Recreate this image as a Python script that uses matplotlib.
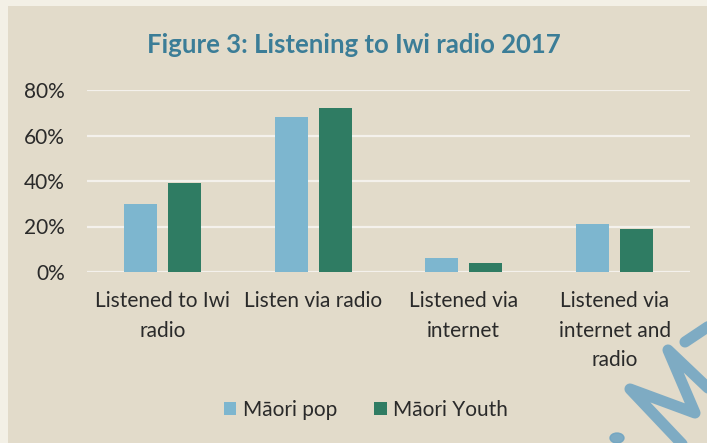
import matplotlib
matplotlib.use("Agg")
import matplotlib.pyplot as plt
import numpy as np
from matplotlib.patches import Rectangle, Ellipse
from matplotlib.lines import Line2D

categories = ["Listened to Iwi\nradio", "Listen via radio", "Listened via\ninternet", "Listened via\ninternet and\nradio"]
maori_pop = [30, 68, 6, 21]
maori_youth = [39, 72, 4, 19]
series_names = ["Māori pop", "Māori Youth"]
yticks = [0, 20, 40, 60, 80]
title = "Figure 3: Listening to Iwi radio 2017"

BG = "#e2dbca"
POP = "#7db6cf"
YOUTH = "#2f7c63"
TXT = "#2a2a2a"
plt.rcParams['font.family'] = ['Lato', 'DejaVu Sans']

W, H = 707, 443
fig = plt.figure(figsize=(W / 100, H / 100), dpi=100)
fig.patch.set_facecolor("#f3f0e6")
fig.patches.append(Rectangle((8 / W, 0), 1, 1 - 6 / H, transform=fig.transFigure,
                             facecolor=BG, edgecolor="none", zorder=-10))

ax = fig.add_axes([87 / W, 1 - 272 / H, (690 - 87) / W, (272 - 90) / H])
ax.set_facecolor("none")
x = np.arange(len(categories))
w = 0.22
off = 0.146
ax.bar(x - off, maori_pop, w, color=POP, label=series_names[0], zorder=3)
ax.bar(x + off, maori_youth, w, color=YOUTH, label=series_names[1], zorder=3)

ax.set_xlim(-0.5, len(categories) - 0.5)
ax.set_ylim(0, 80)
ax.set_yticks(yticks)
ax.set_yticklabels([f"{v}%" for v in yticks], fontsize=15, color=TXT)
ax.set_xticks(x)
ax.set_xticklabels(categories, fontsize=15, color=TXT, linespacing=1.58)
ax.tick_params(axis='both', length=0)
ax.tick_params(axis='y', pad=16)
ax.tick_params(axis='x', pad=14)
for s in ax.spines.values():
    s.set_visible(False)
ax.yaxis.grid(True, color="#f4f1ec", linewidth=1.6, zorder=0)
ax.set_axisbelow(True)

fig.text(0.5, 1 - 45 / H, title, ha="center", va="center", fontsize=18.5,
         fontweight="bold", color="#3b7d97")

handles, labels = ax.get_legend_handles_labels()
leg = fig.legend(handles, labels, loc="center", bbox_to_anchor=(366 / W, 1 - 410 / H),
                 ncol=2, frameon=False, fontsize=15, handlelength=0.6, handleheight=0.6,
                 handletextpad=0.3, columnspacing=1.8, labelcolor=TXT)

# watermark strokes (decoration, a partial handwritten "Ma")
wm = "#6da3c2"
strokes = [
    [(683, 445), (630, 389), (695, 413), (668, 350), (709, 389)],
    [(685, 342), (709, 326)],
]
for pts in strokes:
    xs = [p[0] / W for p in pts]
    ys = [1 - p[1] / H for p in pts]
    fig.add_artist(Line2D(xs, ys, transform=fig.transFigure, color=wm, lw=8,
                          alpha=0.85, solid_capstyle="round", solid_joinstyle="round"))
fig.add_artist(Ellipse((617 / W, 1 - 438 / H), 14 / W, 10 / H, transform=fig.transFigure,
                       color=wm, alpha=0.85))

fig.savefig("out.png", dpi=100, facecolor=fig.get_facecolor())
